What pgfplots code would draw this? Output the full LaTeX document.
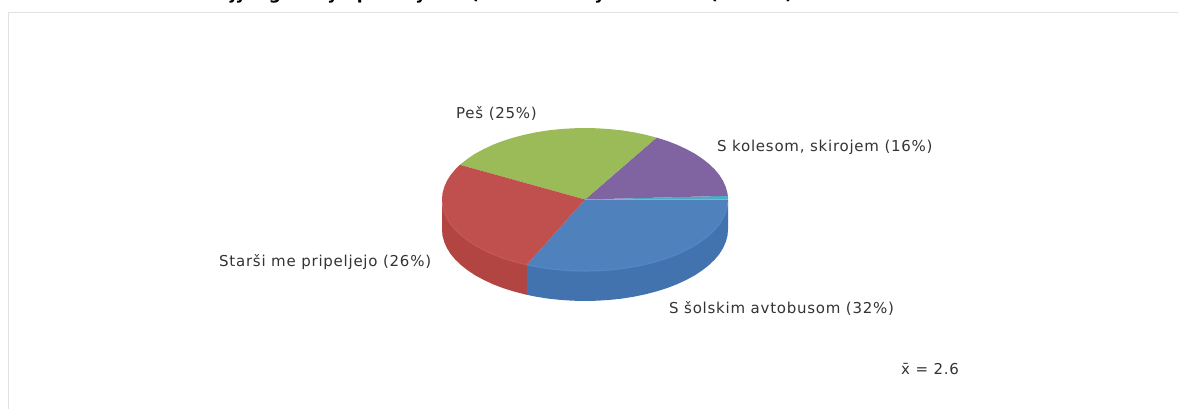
\documentclass[border=0pt]{standalone}
\usepackage{fontspec}
\setmainfont{DejaVu Sans}
\newfontfamily\lblfont[LetterSpace=5]{DejaVu Sans}
\usepackage{pgfplots}
\pgfplotsset{compat=1.18}
\definecolor{cblue}{HTML}{4F81BD}
\definecolor{cblueS}{HTML}{4373AF}
\definecolor{cblueR}{HTML}{5587C4}
\definecolor{cred}{HTML}{C0504D}
\definecolor{credS}{HTML}{B24541}
\definecolor{credR}{HTML}{C65753}
\definecolor{cgreen}{HTML}{9BBB59}
\definecolor{cpurple}{HTML}{8064A2}
\definecolor{cteal}{HTML}{4BACC6}
\definecolor{ctext}{HTML}{333333}
\definecolor{cframe}{HTML}{E2E2E2}
\tikzset{lbl/.style={anchor=base west, inner sep=0pt, text=ctext, font=\fontsize{15}{17}\lblfont},
 ttl/.style={anchor=base, inner sep=0pt, text=black, font=\fontsize{17}{19}\selectfont\bfseries}}
\begin{document}
\begin{tikzpicture}
\begin{axis}[
  anchor=south west, at={(0,0)},
  scale only axis, width=1178pt, height=409pt,
  xmin=0, xmax=1178, ymin=0, ymax=409, y dir=reverse,
  hide axis, clip=false,
]
% frame
\addplot[cframe, line width=1.5pt] coordinates {(8.5,409) (8.5,12.5) (1178,12.5)};
% side red
\addplot[fill=credS, draw=none] coordinates {
(442,199.5)(442.5,205.7)(444.2,211.9)(446.9,218.0)(450.6,224.0)(455.4,229.7)(461.2,235.25)(467.9,240.5)(475.5,245.5)(483.9,250.0)(493.1,254.3)(503.0,258.1)(513.5,261.4)(524.6,264.3)(526.8,264.8)
(526.8,294.8)(524.6,294.3)(513.5,291.4)(503.0,288.1)(493.1,284.3)(483.9,280.0)(475.5,275.5)(467.9,270.5)(461.2,265.25)(455.4,259.7)(450.6,254.0)(446.9,248.0)(444.2,241.9)(442.5,235.7)(442,229.5)} --cycle;
% side blue
\addplot[fill=cblueS, draw=none] coordinates {
(526.8,264.8)(536.1,266.7)(548.0,268.6)(560.2,269.9)(572.5,270.7)(585,271.0)(597.5,270.7)(609.8,269.9)(622.0,268.6)(633.9,266.7)(645.4,264.3)(656.5,261.4)(667.0,258.1)(676.9,254.3)(686.1,250.0)(694.5,245.5)(702.1,240.5)(708.8,235.25)(714.6,229.7)(719.4,224.0)(723.1,218.0)(725.8,211.9)(727.5,205.7)(728,199.5)
(728,229.5)(727.5,235.7)(725.8,241.9)(723.1,248.0)(719.4,254.0)(714.6,259.7)(708.8,265.25)(702.1,270.5)(694.5,275.5)(686.1,280.0)(676.9,284.3)(667.0,288.1)(656.5,291.4)(645.4,294.3)(633.9,296.7)(622.0,298.6)(609.8,299.9)(597.5,300.7)(585,301.0)(572.5,300.7)(560.2,299.9)(548.0,298.6)(536.1,296.7)(526.8,294.8)} --cycle;
% top blue
\addplot[fill=cblue, draw=none] coordinates {
(585,199.5)(526.8,264.8)(536.1,266.7)(548.0,268.6)(560.2,269.9)(572.5,270.7)(585,271.0)(597.5,270.7)(609.8,269.9)(622.0,268.6)(633.9,266.7)(645.4,264.3)(656.5,261.4)(667.0,258.1)(676.9,254.3)(686.1,250.0)(694.5,245.5)(702.1,240.5)(708.8,235.25)(714.6,229.7)(719.4,224.0)(723.1,218.0)(725.8,211.9)(727.5,205.7)(728,199.5)} --cycle;
% rim of the blue top
\addplot[cblueR, line width=1.2pt] coordinates {
(526.8,264.8)(536.1,266.7)(548.0,268.6)(560.2,269.9)(572.5,270.7)(585,271.0)(597.5,270.7)(609.8,269.9)(622.0,268.6)(633.9,266.7)(645.4,264.3)(656.5,261.4)(667.0,258.1)(676.9,254.3)(686.1,250.0)(694.5,245.5)(702.1,240.5)(708.8,235.25)(714.6,229.7)(719.4,224.0)(723.1,218.0)(725.8,211.9)(727.5,205.7)};
% top teal
\addplot[fill=cteal, draw=none] coordinates {(585,199.5)(728,199.5)(727.8,195.8)} --cycle;
% top purple
\addplot[fill=cpurple, draw=none] coordinates {
(585,199.5)(727.8,195.8)(727.5,193.3)(725.8,187.1)(723.1,181.0)(719.4,175.0)(714.6,169.3)(708.8,163.75)(702.1,158.5)(694.5,153.5)(686.1,149.0)(676.9,144.7)(667.0,140.9)(656.5,137.6)} --cycle;
% top green
\addplot[fill=cgreen, draw=none] coordinates {
(585,199.5)(656.5,137.6)(645.4,134.7)(633.9,132.3)(622.0,130.4)(609.8,129.1)(597.5,128.3)(585,128.0)(572.5,128.3)(560.2,129.1)(548.0,130.4)(536.1,132.3)(524.6,134.7)(513.5,137.6)(503.0,140.9)(493.1,144.7)(483.9,149.0)(475.5,153.5)(467.9,158.5)(461.2,163.75)(459.9,164.8)} --cycle;
% top red
\addplot[fill=cred, draw=none] coordinates {
(585,199.5)(459.9,164.8)(455.4,169.3)(450.6,175.0)(446.9,181.0)(444.2,187.1)(442.5,193.3)(442,199.5)(442.5,205.7)(444.2,211.9)(446.9,218.0)(450.6,224.0)(455.4,229.7)(461.2,235.25)(467.9,240.5)(475.5,245.5)(483.9,250.0)(493.1,254.3)(503.0,258.1)(513.5,261.4)(524.6,264.3)(526.8,264.8)} --cycle;
% rim of the red top
\addplot[credR, line width=1.2pt] coordinates {
(442.5,205.7)(444.2,211.9)(446.9,218.0)(450.6,224.0)(455.4,229.7)(461.2,235.25)(467.9,240.5)(475.5,245.5)(483.9,250.0)(493.1,254.3)(503.0,258.1)(513.5,261.4)(524.6,264.3)(526.8,264.8)};
% labels
\node[lbl] at (axis cs:456,119) {Peš (25\%)};
\node[lbl] at (axis cs:717,152) {S kolesom, skirojem (16\%)};
\node[lbl] at (axis cs:219,266) {Starši me pripeljejo (26\%)};
\node[lbl] at (axis cs:669,313) {S šolskim avtobusom (32\%)};
\node[lbl] at (axis cs:901,374) {x̄ = 2.6};
% the visible descenders of the title that the reference's top edge cuts off
\node[ttl] at (axis cs:233,-0.8) {j};
\node[ttl] at (axis cs:241,-0.8) {y};
\node[ttl] at (axis cs:275,-0.8) {g};
\node[ttl] at (axis cs:333,-0.8) {y};
\node[ttl] at (axis cs:363,-0.8) {p};
\node[ttl] at (axis cs:421,-0.8) {y};
\node[ttl] at (axis cs:475,-0.8) {(};
\node[ttl] at (axis cs:600,-0.8) {y};
\node[ttl] at (axis cs:714,-0.8) {(};
\node[ttl] at (axis cs:789,-0.8) {)};
\end{axis}
\pgfresetboundingbox
\path[use as bounding box] (0,0) rectangle (1178pt,409pt);
\end{tikzpicture}
\end{document}
